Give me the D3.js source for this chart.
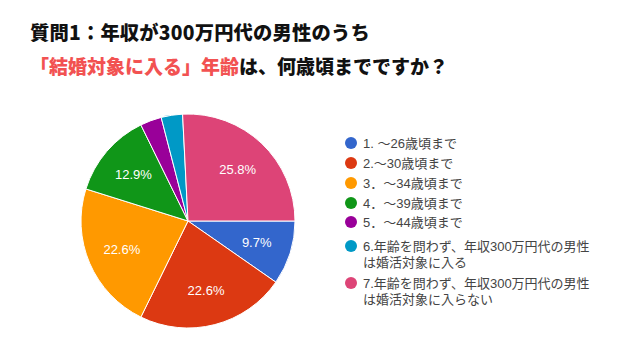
<!DOCTYPE html>
<html><head><meta charset="utf-8">
<script src="https://cdn.jsdelivr.net/npm/d3@7"></script>
<style>
html,body{margin:0;padding:0;background:#fff;}
svg{display:block;}
</style></head>
<body>
<svg id="chart" width="640" height="360"></svg>
<script>
const categories = [
  ["1. ～26歳頃まで"],
  ["2.～30歳頃まで"],
  ["3．～34歳頃まで"],
  ["4．～39歳頃まで"],
  ["5．～44歳頃まで"],
  ["6.年齢を問わず、年収300万円代の男性", "は婚活対象に入る"],
  ["7.年齢を問わず、年収300万円代の男性", "は婚活対象に入らない"]
];
const counts = [3, 7, 7, 4, 1, 1, 8];
const colors = ["#3366cc", "#dc3912", "#ff9900", "#109618", "#990099", "#0099c6", "#dd4477"];
const titleLine1 = "質問1：年収が300万円代の男性のうち";
const titleLine2Red = "「結婚対象に入る」年齢";
const titleLine2Black = "は、何歳頃までですか？";

const svg = d3.select("#chart");
const titleFont = "'Noto Sans CJK JP', sans-serif";

svg.append("text").attr("x", 30).attr("y", 40)
  .attr("font-family", titleFont).attr("font-weight", 900).attr("font-size", 19.3)
  .attr("letter-spacing", 0.2)
  .attr("fill", "#111").text(titleLine1);
const t2 = svg.append("text").attr("x", 30).attr("y", 74)
  .attr("font-family", titleFont).attr("font-weight", 900).attr("font-size", 19);
t2.append("tspan").attr("fill", "#f25252").text(titleLine2Red);
t2.append("tspan").attr("fill", "#111").text(titleLine2Black);

const cx = 188, cy = 221, r = 107;
const total = d3.sum(counts);
const pie = d3.pie().sort(null).startAngle(Math.PI/2).endAngle(Math.PI/2 + 2*Math.PI);
const arcs = pie(counts);
const arc = d3.arc().innerRadius(0).outerRadius(r);
const labelArc = d3.arc().innerRadius(72).outerRadius(72);

const g = svg.append("g").attr("transform", `translate(${cx},${cy})`);
g.selectAll("path").data(arcs).join("path")
  .attr("d", arc).attr("fill", (d,i) => colors[i])
  .attr("stroke", "#fff").attr("stroke-width", 1);

g.selectAll("text").data(arcs.filter(d => d.value/total >= 0.05)).join("text")
  .attr("transform", d => `translate(${labelArc.centroid(d)})`)
  .attr("text-anchor", "middle").attr("dy", "0.36em")
  .attr("font-family", "'Liberation Sans', Arial, sans-serif").attr("font-size", 13)
  .attr("fill", "#fff")
  .text(d => (d.value/total*100).toFixed(1) + "%");

const legendY = [143, 163, 183, 203, 222, 246, 283];
const lg = svg.append("g");
categories.forEach((lines, i) => {
  lg.append("circle").attr("cx", 351).attr("cy", legendY[i]).attr("r", 6).attr("fill", colors[i]);
  lines.forEach((ln, j) => {
    lg.append("text").attr("x", 363).attr("y", legendY[i] + j*16.5).attr("dy", "0.36em")
      .attr("font-family", "'Liberation Sans', 'Noto Sans CJK JP', sans-serif")
      .attr("font-size", 13).attr("fill", "#444").text(ln);
  });
});
</script>
</body></html>
